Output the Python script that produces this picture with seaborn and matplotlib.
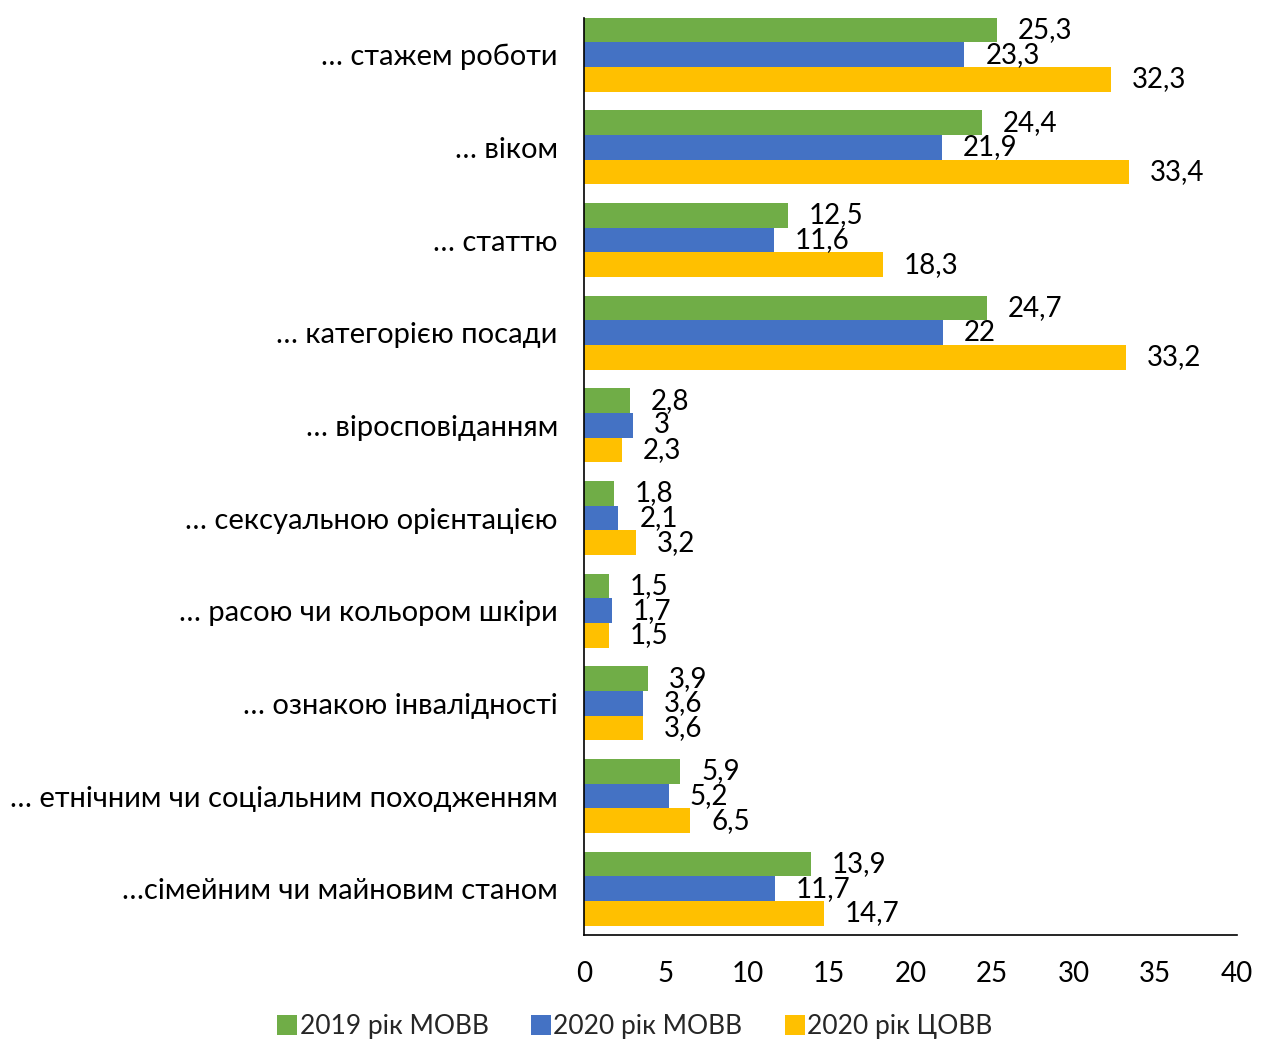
import pandas as pd
import matplotlib.pyplot as plt
import matplotlib.transforms as mtransforms
import seaborn as sns

# Categories and series values
categories = [
    "… стажем роботи",
    "… віком",
    "… статтю",
    "… категорією посади",
    "… віросповіданням",
    "… сексуальною орієнтацією",
    "… расою чи кольором шкіри",
    "… ознакою інвалідності",
    "… етнічним чи соціальним походженням",
    "…сімейним чи майновим станом",
]
series_names = ["2019 рік МОВВ", "2020 рік МОВВ", "2020 рік ЦОВВ"]
movv_2019 = [25.3, 24.4, 12.5, 24.7, 2.8, 1.8, 1.5, 3.9, 5.9, 13.9]
movv_2020 = [23.3, 21.9, 11.6, 22.0, 3.0, 2.1, 1.7, 3.6, 5.2, 11.7]
tsovv_2020 = [32.3, 33.4, 18.3, 33.2, 2.3, 3.2, 1.5, 3.6, 6.5, 14.7]
colors = ["#70AD47", "#4472C4", "#FFC000"]

df = pd.DataFrame({
    "category": categories * 3,
    "series": [series_names[0]] * 10 + [series_names[1]] * 10 + [series_names[2]] * 10,
    "value": movv_2019 + movv_2020 + tsovv_2020,
})

sns.set_theme(style="white")
plt.rcParams["font.family"] = ["Lato", "DejaVu Sans"]

fig = plt.figure(figsize=(12.7, 10.42), dpi=100)
ax = fig.add_axes([0.46, 0.1027, 0.514, 0.8803])

sns.barplot(data=df, x="value", y="category", hue="series", orient="h",
            palette=colors, width=0.8, saturation=1, linewidth=0, ax=ax, legend=True)

# value labels with decimal comma, nudged a little below bar centre
shift = mtransforms.ScaledTranslation(0, -2 / 100, fig.dpi_scale_trans)
for container in ax.containers:
    labels = [f"{v:g}".replace(".", ",") for v in container.datavalues]
    texts = ax.bar_label(container, labels=labels, padding=15, fontsize=20, color="#000000")
    for t in texts:
        t.set_transform(t.get_transform() + shift)

ax.set_xlim(0, 40)
ax.set_xticks(range(0, 41, 5))
ax.set_ylim(9.5, -0.4)
ax.set_xlabel("")
ax.set_ylabel("")
ax.tick_params(axis="x", length=0, pad=19, labelsize=20, colors="#000000")
ax.tick_params(axis="y", length=0, pad=19, labelsize=21, colors="#000000")

for side in ["top", "right"]:
    ax.spines[side].set_visible(False)
for side in ["left", "bottom"]:
    ax.spines[side].set_color("#000000")
    ax.spines[side].set_linewidth(1.2)

handles, labels = ax.get_legend_handles_labels()
ax.get_legend().remove()
fig.legend(handles, labels, loc="lower center", ncol=3, frameon=False,
           fontsize=19, handlelength=0.75, handleheight=0.75, handletextpad=0.1,
           columnspacing=1.6, bbox_to_anchor=(0.5, -0.02))

fig.savefig("out.png", dpi=100)
